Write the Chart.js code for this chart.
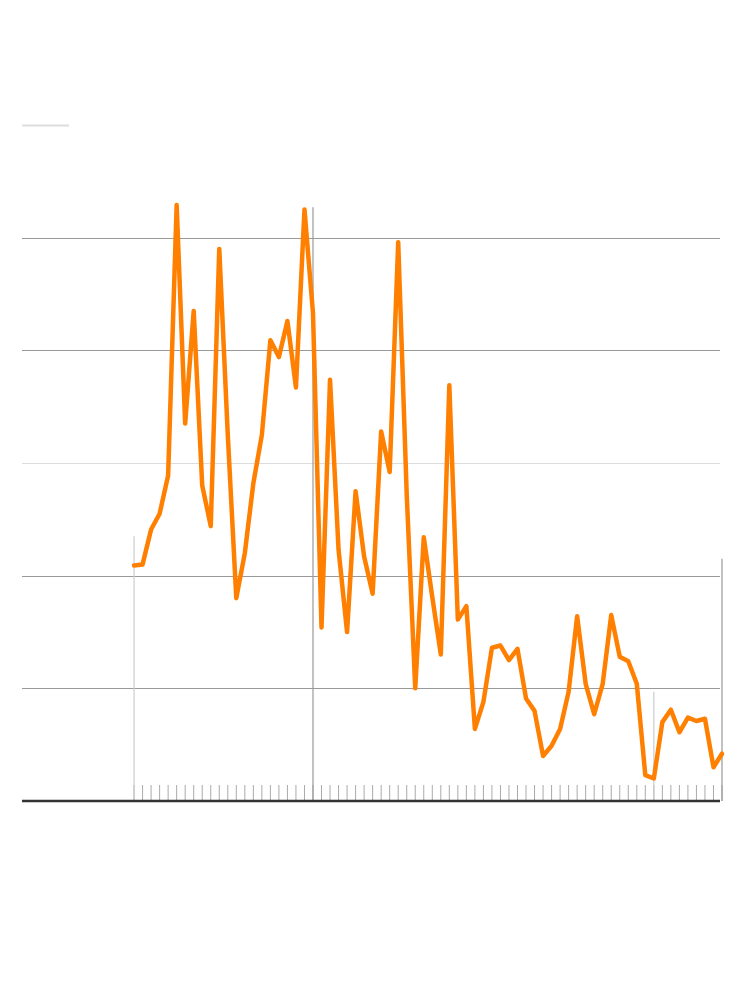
<!DOCTYPE html>
<html>
<head>
<meta charset="utf-8">
<script src="https://cdn.jsdelivr.net/npm/chart.js@4"></script>
<style>
  html, body { margin: 0; padding: 0; background: #fff; }
  #wrap { width: 750px; height: 1006px; }
</style>
</head>
<body>
<div id="wrap"><canvas id="chart"></canvas></div>
<script>
// valores de la serie (uno por periodo)
const values = [
    2.09, 2.10, 2.41, 2.55, 2.89, 5.29, 3.35, 4.35, 2.80, 2.44,
    4.90, 3.25, 1.80, 2.20, 2.82, 3.25, 4.09, 3.94, 4.26, 3.67,
    5.25, 4.33, 1.54, 3.74, 2.23, 1.50, 2.75, 2.17, 1.84, 3.28,
    2.92, 4.96, 2.72, 1.00, 2.34, 1.81, 1.30, 3.69, 1.61, 1.73,
    0.64, 0.88, 1.36, 1.38, 1.25, 1.35, 0.91, 0.80, 0.40, 0.49,
    0.64, 0.97, 1.64, 1.04, 0.77, 1.04, 1.65, 1.28, 1.24, 1.04,
    0.23, 0.20, 0.70, 0.81, 0.61, 0.74, 0.71, 0.73, 0.30, 0.42
];
const periods = values.map((_, i) => i);

// lineas verticales destacadas
const markerIndex = [0, 21, 61, 69];
const markerTop = [2.35, 5.27, 0.97, 2.15];
const markerColor = ['#cccccc', '#999999', '#cccccc', '#999999'];

// lineas horizontales
const gridValues = [1, 2, 3, 4, 5];
const gridColors = ['#999999', '#999999', '#dddddd', '#999999', '#999999'];
const yMax = 6;
const xMin = -13.15;

const decor = {
    id: 'decor',
    beforeDatasetsDraw(chart) {
        const { ctx, chartArea, scales: { x, y } } = chart;
        const left = chartArea.left;
        const gridRight = chartArea.right - 2;
        ctx.save();
        ctx.lineWidth = 1;

        gridValues.forEach((v, i) => {
            const py = Math.round(y.getPixelForValue(v)) + 0.5;
            ctx.strokeStyle = gridColors[i];
            ctx.beginPath();
            ctx.moveTo(left, py);
            ctx.lineTo(gridRight, py);
            ctx.stroke();
        });

        // linea corta superior
        const topY = Math.round(y.getPixelForValue(yMax)) + 0.5;
        ctx.strokeStyle = '#dddddd';
        ctx.lineWidth = 2;
        ctx.beginPath();
        ctx.moveTo(left, topY);
        ctx.lineTo(left + 47, topY);
        ctx.stroke();

        // marcas menores
        const base = y.getPixelForValue(0);
        ctx.lineWidth = 1;
        ctx.strokeStyle = '#aaaaaa';
        periods.forEach(p => {
            const px = x.getPixelForValue(p);
            ctx.beginPath();
            ctx.moveTo(px, base);
            ctx.lineTo(px, base - 16);
            ctx.stroke();
        });

        markerIndex.forEach((p, i) => {
            const px = x.getPixelForValue(p);
            ctx.strokeStyle = markerColor[i];
            ctx.lineWidth = 1.2;
            ctx.beginPath();
            ctx.moveTo(px, base);
            ctx.lineTo(px, y.getPixelForValue(markerTop[i]));
            ctx.stroke();
        });

        // eje base
        ctx.strokeStyle = '#333333';
        ctx.lineWidth = 2.5;
        ctx.beginPath();
        ctx.moveTo(left, base);
        ctx.lineTo(gridRight, base);
        ctx.stroke();
        ctx.restore();
    }
};

new Chart(document.getElementById('chart'), {
    type: 'line',
    data: {
        datasets: [{
            data: periods.map((p, i) => ({ x: p, y: values[i] })),
            borderColor: '#ff7f00',
            borderWidth: 4.5,
            borderJoinStyle: 'round',
            borderCapStyle: 'round',
            pointRadius: 0,
            tension: 0,
            clip: false
        }]
    },
    options: {
        responsive: true,
        maintainAspectRatio: false,
        animation: false,
        layout: { padding: { left: 22, right: 28, top: 125, bottom: 205 } },
        plugins: { legend: { display: false }, tooltip: { enabled: false } },
        scales: {
            x: { type: 'linear', min: xMin, max: 69, display: false },
            y: { min: 0, max: yMax, display: false }
        }
    },
    plugins: [decor]
});
</script>
</body>
</html>
